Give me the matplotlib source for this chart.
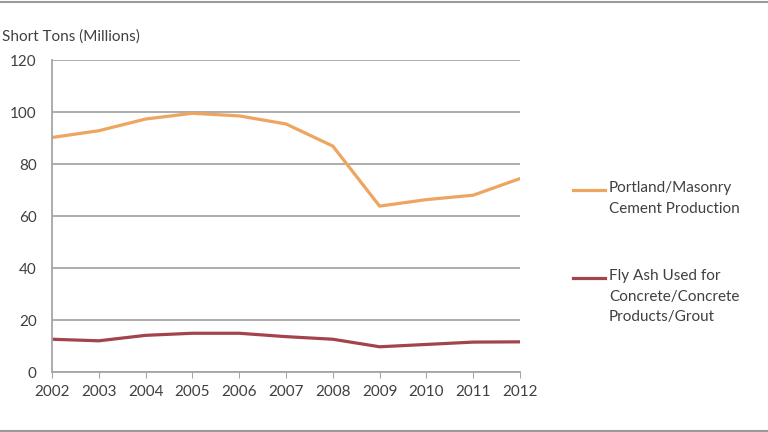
import matplotlib.pyplot as plt
from matplotlib.lines import Line2D

years = [2002, 2003, 2004, 2005, 2006, 2007, 2008, 2009, 2010, 2011, 2012]
cement = [90.2, 92.8, 97.3, 99.5, 98.5, 95.4, 86.9, 63.8, 66.3, 68.0, 74.4]
fly_ash = [12.6, 12.0, 14.1, 14.9, 14.9, 13.6, 12.6, 9.7, 10.6, 11.5, 11.6]

cement_label = "Portland/Masonry\nCement Production"
fly_ash_label = "Fly Ash Used for\nConcrete/Concrete\nProducts/Grout"

orange = "#EDA560"
red = "#A3434B"
grid_gray = "#A6A6A6"
text_gray = "#404040"

plt.rcParams["font.family"] = ["Lato", "DejaVu Sans"]

fig = plt.figure(figsize=(7.68, 4.32), dpi=100)
ax = fig.add_axes([52 / 768, 60 / 432, 468 / 768, 312 / 432])

ax.plot(years, cement, color=orange, linewidth=2.3, solid_capstyle="round")
ax.plot(years, fly_ash, color=red, linewidth=2.3, solid_capstyle="round")

ax.set_xlim(2002, 2012)
ax.set_ylim(0, 120)
ax.set_xticks(years)
ax.set_yticks(range(0, 121, 20))
ax.grid(axis="y", color=grid_gray, linewidth=1.3)
ax.set_axisbelow(True)

for side in ["top", "right"]:
    ax.spines[side].set_visible(False)
for side in ["left", "bottom"]:
    ax.spines[side].set_color(grid_gray)
    ax.spines[side].set_linewidth(1.3)

ax.tick_params(axis="x", direction="out", length=4, color=grid_gray,
               labelsize=11, labelcolor=text_gray, pad=5)
ax.tick_params(axis="y", length=0, labelsize=11, labelcolor=text_gray, pad=11)

fig.text(0.002, 1 - 37 / 432, "Short Tons (Millions)", fontsize=11,
         color=text_gray, ha="left", va="center")

# legend drawn by hand so the swatch sits on the first text line
def legend_entry(y_px, color, label):
    y = 1 - y_px / 432
    fig.add_artist(Line2D([573 / 768, 605 / 768], [y, y], color=color,
                          linewidth=2.3, transform=fig.transFigure))
    fig.text(609 / 768, y + 0.021, label, fontsize=11, color=text_gray,
             ha="left", va="top", linespacing=1.6)

legend_entry(190, orange, cement_label)
legend_entry(278, red, fly_ash_label)

# frame lines at top and bottom of the image
for y in [1 - 1.5 / 432, 1.5 / 432]:
    fig.add_artist(Line2D([0, 1], [y, y], color="#9A9A9A", linewidth=1.5,
                          transform=fig.transFigure))

fig.savefig("out.png", dpi=100)
